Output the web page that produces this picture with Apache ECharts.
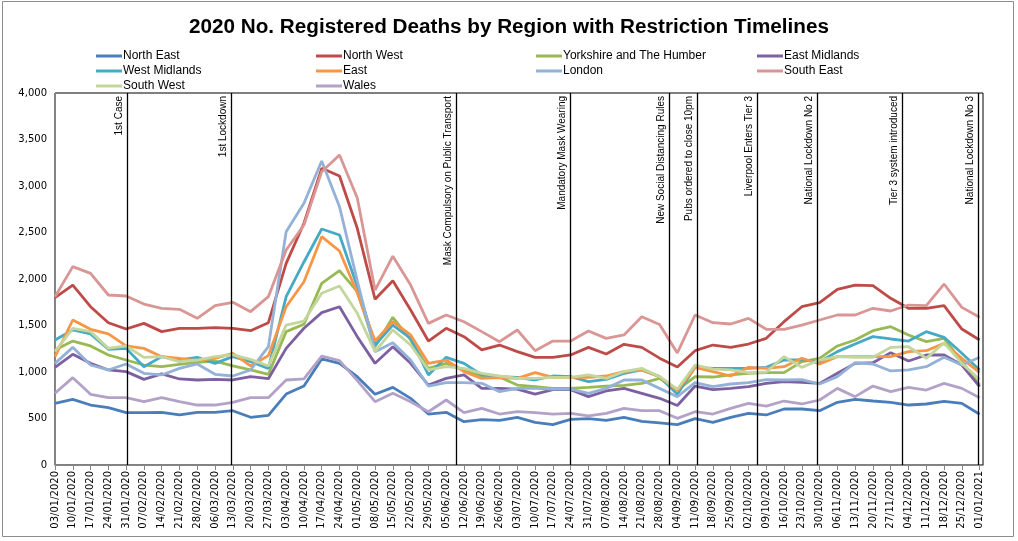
<!DOCTYPE html>
<html>
<head>
<meta charset="utf-8">
<script src="https://cdn.jsdelivr.net/npm/echarts@6/dist/echarts.min.js"></script>
<style>html,body{margin:0;padding:0;background:#fff;}#c{width:1018px;height:541px;}</style>
</head>
<body>
<div id="c"></div>
<script>
const weeks = ['03/01/2020','10/01/2020','17/01/2020','24/01/2020','31/01/2020','07/02/2020','14/02/2020','21/02/2020','28/02/2020','06/03/2020','13/03/2020','20/03/2020','27/03/2020','03/04/2020','10/04/2020','17/04/2020','24/04/2020','01/05/2020','08/05/2020','15/05/2020','22/05/2020','29/05/2020','05/06/2020','12/06/2020','19/06/2020','26/06/2020','03/07/2020','10/07/2020','17/07/2020','24/07/2020','31/07/2020','07/08/2020','14/08/2020','21/08/2020','28/08/2020','04/09/2020','11/09/2020','18/09/2020','25/09/2020','02/10/2020','09/10/2020','16/10/2020','23/10/2020','30/10/2020','06/11/2020','13/11/2020','20/11/2020','27/11/2020','04/12/2020','11/12/2020','18/12/2020','25/12/2020','01/01/2021'];

const northEast = [663,706,645,616,563,563,566,538,566,566,584,513,534,763,849,1140,1093,950,760,835,717,548,566,466,487,480,513,459,434,491,498,480,513,470,452,434,498,459,513,556,538,602,602,584,674,706,688,674,645,656,685,663,545];
const northWest = [1799,1935,1702,1530,1462,1523,1434,1470,1470,1477,1470,1444,1530,2168,2599,3190,3108,2545,1782,1982,1667,1333,1470,1380,1237,1290,1219,1158,1158,1183,1265,1194,1298,1265,1149,1053,1229,1290,1265,1301,1362,1541,1702,1745,1889,1935,1928,1792,1685,1685,1713,1462,1344];
const yorkshire = [1237,1333,1280,1183,1129,1075,1057,1082,1104,1118,1065,1022,975,1434,1513,1953,2090,1864,1272,1588,1344,1039,1093,1022,950,946,860,842,824,824,835,849,856,878,932,806,950,946,968,986,993,993,1111,1147,1280,1344,1444,1487,1398,1326,1362,1111,860];
const eastMidlands = [1050,1190,1093,1022,1004,921,979,925,914,921,914,950,928,1254,1470,1638,1702,1380,1093,1272,1093,860,932,968,824,824,815,763,810,810,735,796,824,771,717,640,849,810,824,842,878,896,889,878,986,1093,1100,1208,1118,1183,1183,1075,842];
const westMidlands = [1344,1452,1409,1244,1254,1057,1165,1129,1158,1093,1165,1111,1039,1810,2183,2538,2473,1920,1290,1505,1362,968,1158,1093,968,950,943,914,957,950,896,921,986,1022,950,760,1050,1039,1039,1039,1050,1129,1129,1111,1219,1301,1380,1355,1333,1434,1373,1201,1022];
const east = [1165,1559,1459,1409,1280,1254,1165,1147,1122,1147,1201,1065,1176,1702,1971,2455,2301,1850,1333,1541,1398,1093,1129,1004,932,939,932,993,943,943,943,957,1004,1022,950,800,1050,1004,957,1050,1039,1057,1147,1086,1165,1165,1165,1165,1219,1229,1308,1147,993];
const london = [1093,1265,1075,1022,1086,986,968,1039,1086,975,957,1022,1272,2509,2814,3269,2778,1980,1219,1315,1129,849,885,885,878,789,824,824,817,815,771,824,914,914,824,735,885,842,871,885,918,914,918,871,950,1100,1086,1011,1022,1057,1158,1075,1158];
const southEast = [1810,2133,2061,1828,1817,1731,1685,1674,1577,1713,1749,1649,1810,2312,2581,3154,3333,2870,1880,2245,1935,1523,1613,1541,1434,1326,1452,1229,1333,1333,1441,1362,1398,1595,1510,1205,1613,1530,1516,1577,1459,1459,1505,1559,1613,1613,1685,1656,1720,1713,1946,1695,1588];
const southWest = [1219,1470,1434,1254,1280,1158,1165,1111,1129,1165,1183,1136,1065,1505,1548,1846,1925,1631,1219,1452,1290,1022,1057,1039,986,957,932,932,943,943,968,932,1004,1039,950,815,1075,1032,1022,993,1000,1165,1050,1129,1165,1158,1158,1265,1272,1147,1315,1093,918];
const wales = [771,939,760,724,724,681,724,681,645,645,674,724,724,914,925,1172,1122,907,681,771,681,573,699,563,609,548,573,563,548,556,527,556,609,584,584,502,573,548,609,663,634,688,656,699,824,735,849,789,835,806,878,824,724];

const seriesNames = ['North East','North West','Yorkshire and The Humber','East Midlands','West Midlands','East','London','South East','South West','Wales'];
const seriesValues = [northEast,northWest,yorkshire,eastMidlands,westMidlands,east,london,southEast,southWest,wales];
const seriesColors = ['#4A7EBB','#BE4B48','#98B954','#7D60A0','#46AAC5','#F79646','#94B1D8','#D99694','#C3D69B','#B3A2C7'];

const eventNames = ['1st Case','1st Lockdown','Mask Compulsory on Public Transport','Mandatory Mask Wearing','New Social Distancing Rules','Pubs ordered to close 10pm','Liverpool Enters Tier 3','National Lockdown No 2','Tier 3 system introduced','National Lockdown No 3'];
const eventWeek = [4.04, 9.92, 22.56, 28.98, 34.57, 36.14, 39.49, 42.87, 47.67, 51.92];

const yTicks = [0,500,1000,1500,2000,2500,3000,3500,4000];

const FONT = "'Liberation Sans Narrow','Liberation Sans',sans-serif";
const chart = echarts.init(document.getElementById('c'), null, {renderer:'canvas'});
const idx = weeks.map((w,i)=>i);

const series = seriesNames.map((n,k)=>({
  name:n, type:'line', symbol:'none', smooth:false,
  data: seriesValues[k].map((v,i)=>[i,v]),
  lineStyle:{width:2.8,color:seriesColors[k]}, itemStyle:{color:seriesColors[k]},
  emphasis:{disabled:true}, z:3
}));
series[0].markLine = {
  silent:true, symbol:['none','none'], animation:false,
  lineStyle:{color:'#000',width:1.3,type:'solid'},
  label:{show:true, position:'insideEndTop', distance:3, fontFamily:FONT, fontSize:10, color:'#000', formatter:p=>p.name},
  data: eventNames.map((n,i)=>({name:n, xAxis:eventWeek[i]}))
};

function legendCol(left, names){
  return {orient:'vertical', left:left, top:44, itemWidth:26, itemHeight:3, itemGap:1, icon:'rect',
    textStyle:{fontFamily:FONT, fontSize:12, color:'#000', lineHeight:14, padding:[0,0,0,-4]}, data:names, selectedMode:false};
}

chart.setOption({
  animation:false,
  backgroundColor:'#fff',
  title:{text:'2020 No. Registered Deaths by Region with Restriction Timelines', left:'center', top:12,
    textStyle:{fontFamily:FONT, fontSize:20.7, fontWeight:'bold', color:'#000'}},
  legend:[
    legendCol(91, ['North East','West Midlands','South West']),
    legendCol(311, ['North West','East','Wales']),
    legendCol(531, ['Yorkshire and The Humber','London']),
    legendCol(752, ['East Midlands','South East'])
  ],
  grid:{left:55, right:35, top:93, bottom:76, show:true, borderColor:'#000', borderWidth:1, backgroundColor:'#fff'},
  xAxis:{type:'value', min:0, max:52.19, interval:1,
    axisLine:{show:true, lineStyle:{color:'#868686', width:1}},
    axisTick:{show:true, length:5, lineStyle:{color:'#868686'}, customValues:idx},
    axisLabel:{rotate:90, fontFamily:"'DejaVu Sans',sans-serif", fontSize:10, color:'#000', margin:6, customValues:idx,
      formatter:v=>{const r=Math.round(v); return Math.abs(v-r)<1e-6 && weeks[r] ? weeks[r] : '';}},
    splitLine:{show:false}},
  yAxis:{type:'value', min:0, max:4000, interval:500,
    axisLine:{show:true, lineStyle:{color:'#868686', width:1}},
    axisTick:{show:false},
    axisLabel:{fontFamily:"'DejaVu Sans',sans-serif", fontSize:10, color:'#000', margin:8,
      formatter:v=>yTicks.includes(v)? v.toLocaleString('en-US'):''},
    splitLine:{show:false}},
  graphic:[{type:'rect', shape:{x:2.5,y:1.5,width:1011,height:535}, style:{fill:null, stroke:'#8c8c8c', lineWidth:1}, silent:true, z:-1}],
  series: series
});
</script>
</body>
</html>
